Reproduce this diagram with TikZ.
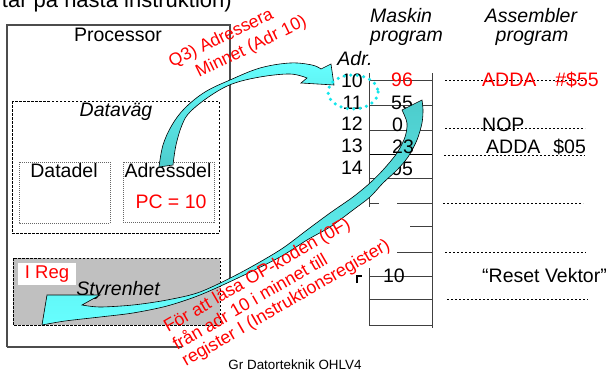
\documentclass[tikz,border=0pt]{standalone}
\usepackage{fontspec}
\setmainfont{Liberation Sans}
\definecolor{aquaA}{RGB}{102,255,255}
\definecolor{tealA}{RGB}{77,204,204}
\definecolor{dotcyan}{RGB}{20,230,235}
\definecolor{slidered}{RGB}{255,0,0}
\definecolor{ctrlgray}{RGB}{192,192,192}
\begin{document}
\begin{tikzpicture}[x=1pt,y=-1pt,
  txt/.style={inner sep=0pt, font=\fontsize{19.5}{22}\selectfont},
  itxt/.style={inner sep=0pt, font=\fontsize{19.5}{22}\selectfont\itshape},
  redtxt/.style={inner sep=0pt, text=slidered, font=\fontsize{17.8}{20}\selectfont},
  memline/.style={draw=black!75, line width=0.9pt},
  guide/.style={draw=black, line width=0.7pt, dash pattern=on 2.2pt off 1.8pt},
  unitbox/.style={line width=0.7pt, dash pattern=on 2.5pt off 1.5pt},
  partbox/.style={draw=black!60, line width=0.6pt, dash pattern=on 1pt off 1pt},
  blockarrow/.style={draw=black, line width=0.6pt},
]
\useasboundingbox (0,0) rectangle (611,372);
\clip (0,0) rectangle (611,372);
\fill[white] (0,0) rectangle (611,372);

% heading line, cut off by the top edge
\node[inner sep=0pt, font=\fontsize{22}{24}\selectfont, anchor=base east] (head) at (232,7) {tar på nästa instruktion)};

% processor frame
\draw[black!70, line width=1.2pt] (7,347) -- (7,25) -- (230,25) -- (230,280);
\draw[black!70, line width=1.2pt] (7,347) -- (182,347);
\node[txt] (proc) at (118,35) {Processor};

% data path with its two parts
\draw[unitbox] (12,101) rectangle (219,233);
\node[itxt] (dv) at (116,112) {Datav\"ag};
\draw[partbox] (19,162) rectangle (110,223);
\node[txt] (dd) at (64,171) {Datadel};
\draw[partbox] (123,162) rectangle (214,222);
\node[txt] (ad) at (168,171) {Adressdel};
\node[txt, text=slidered] (pc) at (171,202) {PC = 10};

% control unit
\draw[unitbox, fill=ctrlgray] (13,258) rectangle (220,325);
\fill[white] (18,263) rectangle (76,285);
\node[txt, text=slidered, font=\fontsize{18.5}{20}\selectfont] (ireg) at (47,274) {I Reg};
\node[itxt] (sty) at (118,290) {Styrenhet};

% column headings
\node[itxt, anchor=west] (mask) at (370,16) {Maskin};
\node[itxt, anchor=west] (prog1) at (370,38) {program};
\node[itxt] (asm) at (531,16) {Assembler};
\node[itxt] (prog2) at (532,38) {program};
\node[itxt] (adr) at (355,59) {Adr.};

% memory cells
\foreach \y in {80,105,130,178,276,299,325}
  \draw[memline] (369,\y) -- (432,\y);
\draw[black, line width=0.9pt] (369,154) -- (432,154);
\draw[memline] (369,203) -- (379,203);
\draw[memline] (397,203) -- (432,203);
\draw[memline] (410,226) -- (432,226);
\draw[memline] (397,252) -- (432,252);
\draw[memline] (369,73) -- (369,207);
\draw[memline] (369,268) -- (369,325);
\draw[memline] (432,73) -- (432,328);
\draw[line width=1.2pt] (357,283) -- (357,276) -- (362,276);

% addresses
\node[txt, anchor=east] (a10) at (363,81) {10};
\node[txt, anchor=east] (a11) at (363,103) {11};
\node[txt, anchor=east] (a12) at (363,124) {12};
\node[txt, anchor=east] (a13) at (363,146) {13};
\node[txt, anchor=east] (a14) at (363,168) {14};

% memory contents
\node[txt, text=slidered] (v10) at (402,80) {96};
\node[txt] (v11) at (402,103) {55};
\node[txt, anchor=west] (v12) at (392,125) {0};
\node[txt] (v14) at (402,169) {05};
\node[txt] (vr) at (394,276) {10};

% assembler listing
\draw[guide] (445,80) -- (587,80);
\draw[guide] (445,128) -- (585,128);
\draw[guide] (444,155) -- (585,155);
\draw[guide] (443,203) -- (583,203);
\draw[guide] (445,252) -- (586,252);
\draw[guide] (447,299) -- (588,299);
\node[txt, text=slidered, anchor=west] (i1) at (482,80) {ADDA\hspace*{19pt}\#\$55};
\node[txt, anchor=west] (i2) at (482,125) {NOP};
\node[txt, anchor=west] (i3) at (486,147) {ADDA\hspace*{13pt}\$05};
\node[txt, anchor=west] (rv) at (482,276) {“Reset Vektor”};

\node[inner sep=0pt, font=\fontsize{13.4}{15}\selectfont] (foot) at (295,365) {Gr Datorteknik OHLV4};

% curved arrow: address part to memory
\path[blockarrow, top color=aquaA, bottom color=tealA]
  plot[smooth, tension=0.6] coordinates {(159,167) (163,145) (172,125) (185,108) (205,92) (230,80) (260,68) (290,63) (312,65) (321,69)}
  -- (331,64) -- (334,85) -- (301,83) -- (307,78)
  -- plot[smooth, tension=0.6] coordinates {(307,78) (290,74) (260,77) (232,84) (210,96) (190,112) (182,125) (176,145) (173,165)}
  -- cycle;

% curved arrow: memory to control unit
\path[blockarrow, top color=tealA, bottom color=aquaA]
  plot[smooth, tension=0.5] coordinates {(402,110) (407,123) (405,137) (397,153) (383,170) (370,183) (353,197) (330,213) (307,230) (280,250) (240,273) (200,292) (167,300) (133,305) (100,307) (82,305)}
  -- (100,295) -- (47,295) -- (42,325)
  -- plot[smooth, tension=0.5] coordinates {(42,325) (65,321) (100,317) (133,313) (167,306) (200,295) (240,277) (280,257) (307,240) (330,227) (353,210) (370,197) (383,183) (397,170) (408,157) (417,140) (422,123) (423,110) (422,100)}
  -- cycle;

% cell 13 content, printed over the arrow
\node[txt] (v13) at (403,147) {23};

% dotted ring around the addressed cells
\draw[dotcyan, line width=3.5pt, line cap=round, dash pattern=on 0pt off 6.5pt] (353,92) ellipse [x radius=25, y radius=17];

% step annotations
\node[redtxt, font=\fontsize{17.5}{20}\selectfont, rotate=26, anchor=base west] (q3a) at (172,68) {Q3) Adressera};
\node[redtxt, font=\fontsize{17.5}{20}\selectfont, rotate=26, anchor=base west] (q3b) at (199,78) {Minnet (Adr 10)};
\node[redtxt, rotate=30, anchor=base west] (r1) at (168,333) {För att läsa OP-koden (0F)};
\node[redtxt, rotate=30, anchor=base west] (r2) at (177,351) {från adr 10 i minnet till};
\node[redtxt, rotate=30, anchor=base west] (r3) at (186,367) {register I (Instruktionsregister)};
\end{tikzpicture}
\end{document}
